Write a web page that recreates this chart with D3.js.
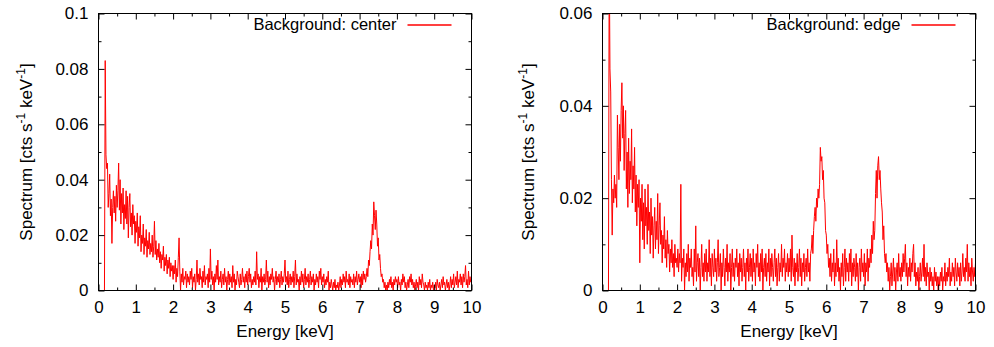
<!DOCTYPE html>
<html>
<head>
<meta charset="utf-8">
<script src="https://cdn.jsdelivr.net/npm/d3@7"></script>
<style>
  body { margin: 0; background: #fff; }
  text { font-family: 'Liberation Sans', Arial, sans-serif; fill: #000; }
</style>
</head>
<body>
<div class="chart-holder"></div>
<script>
// spectra in 1e-3 cts s^-1 keV^-1, bins every 0.02 keV from 0.16 keV to 10 keV
// (first row 0.16-0.98, then one row per keV, last value at 10 keV)
let centerSpec = [
  0,83,49,44,46,30,35,42,27,33, 17,30,36,28,34,25,38,30,36,46,
  29,40,24,35,28,37,22,31,26,36, 24,34,19,30,35,23,28,20,31,24, 27,17,
  25,21,28,16,23,19,27,14,20,17, 24,13,19,16,22,12,18,15,21,13,
  17,14,20,12,16,25,13,18,11,15, 12,17,10,14,8,13,11,16,7,12, 9,13,6,11,8,12,5,10,7,9,
  4,9,6,11,3,8,5,12,19,7, 0,6,3,8,2,5,4,7,1,6,
  3,5,2,7,4,8,1,5,3,6, 0,4,11,3,6,2,8,4,5,1, 7,3,9,2,5,4,6,1,8,3,
  15,4,7,2,5,0,6,3,9,4, 11,2,5,3,7,1,4,6,2,8,
  3,5,0,4,7,2,6,3,5,1, 9,3,6,0,4,2,7,5,3,1, 6,2,4,8,3,5,1,6,3,7,
  2,5,8,3,6,1,4,2,5,3, 7,2,14,4,6,1,5,3,8,0,
  5,3,6,2,4,11,3,7,1,5, 2,6,4,8,3,5,0,4,7,2, 5,3,6,1,4,7,2,5,3,6,
  11,3,5,2,7,1,4,6,2,5, 3,7,1,5,11,2,6,3,4,0,
  5,2,7,3,6,1,4,8,2,5, 3,6,1,4,7,2,5,3,6,0, 4,2,6,3,5,1,7,4,8,2,
  5,3,6,1,4,2,5,3,7,0, 3,1,4,2,0,3,1,4,0,2,
  1,3,0,2,5,1,4,2,6,3, 5,1,7,3,4,2,6,1,5,3, 4,2,6,1,5,3,7,2,4,6,
  3,5,1,6,2,7,4,6,3,5, 8,5,11,9,14,18,15,24,20,32,
  27,22,29,24,16,19,11,13,8,5, 6,3,4,1,3,0,2,0,3,1, 4,2,5,1,3,0,4,2,5,3,
  4,1,5,2,3,0,4,2,6,3, 5,1,3,0,2,4,1,5,3,6,
  2,4,1,3,0,2,4,1,3,0, 5,2,4,1,6,3,2,0,3,1, 2,0,3,1,4,0,2,1,3,0,
  2,1,3,0,4,2,1,3,0,2, 4,1,5,2,3,0,2,4,1,3,
  0,2,5,1,4,2,6,1,3,5, 2,7,1,4,3,6,2,5,1,6, 3,5,9,2,4,1,7,2,5,3,
  4
]
let edgeSpec = [
  0,75,48,43,24,12,22,19,25,20, 23,18,38,31,24,36,28,39,45,33,
  40,26,34,39,22,30,18,33,21,28, 24,35,19,27,22,31,17,25,14,23, 18,24,
  6,20,15,23,11,19,9,22,14,18, 10,23,13,17,8,20,12,16,7,14,
  18,9,15,11,21,8,14,19,10,13, 6,12,9,16,7,11,5,13,8,10, 4,9,6,11,5,8,3,10,6,7,
  5,9,4,8,6,23,2,7,5,9, 0,6,3,8,4,10,2,7,5,9,
  3,5,1,9,4,14,2,6,8,3, 7,0,5,10,3,6,2,8,4,9, 2,6,4,11,3,7,1,8,5,3,
  9,4,7,2,6,11,3,5,8,0, 6,3,9,5,1,7,4,10,2,6,
  4,8,0,5,9,3,6,2,7,5, 9,3,6,1,8,4,7,2,5,9, 3,6,0,7,4,9,2,5,8,3,
  7,2,9,4,6,1,8,5,10,3, 6,2,8,4,9,0,5,7,3,8,
  2,6,4,9,1,7,3,8,5,2, 6,9,3,7,1,5,8,2,6,4, 10,3,7,5,9,2,6,4,8,3,
  7,4,9,2,12,5,3,7,1,6, 4,8,2,5,9,3,7,1,6,4,
  8,2,5,7,3,9,4,6,2,8, 9,12,8,13,16,18,15,20,18,22, 20,23,31,28,29,24,26,20,19,13,
  12,8,10,5,7,3,8,2,6,4, 9,1,6,3,11,4,7,2,5,0,
  6,3,8,1,5,9,2,7,4,6, 2,8,4,9,1,6,3,7,5,2, 8,3,6,0,5,7,2,9,4,6,
  3,8,1,6,4,9,2,7,5,9, 6,12,8,15,11,13,21,26,20,27,
  29,24,26,22,19,17,11,14,8,6, 8,4,6,2,5,0,3,6,1,4, 7,2,5,0,4,6,2,8,3,5,
  2,6,3,8,4,7,10,3,6,1, 5,3,7,2,6,4,8,10,3,6,
  1,4,2,5,0,3,6,2,4,7, 3,10,2,5,1,6,3,4,0,5, 2,4,1,3,0,5,2,4,1,3,
  0,3,1,4,2,5,0,3,2,6, 1,4,2,5,3,7,1,4,2,6,
  3,5,1,7,4,2,6,3,5,1, 6,2,4,8,3,5,2,7,4,10, 2,6,3,5,1,7,4,2,5,3,
  6
]
let energyStart = 0.16
let energyEnd = 10

let energyTicks = [0,1,2,3,4,5,6,7,8,9,10]
let centerTicks = [0, 0.02, 0.04, 0.06, 0.08, 0.1]
let centerTickLabels = ['0', '0.02', '0.04', '0.06', '0.08', '0.1']
let edgeTicks = [0, 0.02, 0.04, 0.06]
let edgeTickLabels = ['0', '0.02', '0.04', '0.06']
let legendLabels = ['Background: center', 'Background: edge']

let width = 994
let height = 347
let plotTop = 13.5, plotBottom = 290.5
let red = '#ff0000'

let svg = d3.select('.chart-holder')
  .append('svg')
    .attr('width', width)
    .attr('height', height)

let panels = [
  { id: 'c', values: centerSpec, yMax: 0.1, ticks: centerTicks, labels: centerTickLabels,
    legend: legendLabels[0], left: 98.5, right: 471.5, ylabelX: 32 },
  { id: 'e', values: edgeSpec, yMax: 0.06, ticks: edgeTicks, labels: edgeTickLabels,
    legend: legendLabels[1], left: 602.5, right: 975.5, ylabelX: 534 }
]

panels.forEach(drawPanel)

function drawPanel(p){
  let x = d3.scaleLinear().domain([0, 10]).range([p.left, p.right])
  let y = d3.scaleLinear().domain([0, p.yMax]).range([plotBottom, plotTop])
  let g = svg.append('g').attr('class', 'panel-' + p.id)

  let minorX = d3.range(0.5, 10, 1)
  let minorY = p.ticks.slice(0, -1).map(t => t + 0.01)

  // clip for the spectrum
  svg.append('clipPath').attr('id', 'clip-' + p.id)
    .append('rect')
      .attr('x', p.left).attr('y', plotTop)
      .attr('width', p.right - p.left).attr('height', plotBottom - plotTop)

  let step = (energyEnd - energyStart) / (p.values.length - 1)
  let line = d3.line()
    .x((d, i) => x(energyStart + i * step))
    .y(d => y(d / 1000))

  g.append('path')
    .datum(p.values)
    .attr('clip-path', 'url(#clip-' + p.id + ')')
    .attr('fill', 'none')
    .attr('stroke', red)
    .attr('stroke-width', 1)
    .attr('d', line)

  // axes, ticks pointing inward
  let fmt = d => p.labels[p.ticks.indexOf(d)]
  let axes = [
    [d3.axisBottom(x).tickValues(energyTicks).tickFormat(d3.format('d')), 'translate(0,' + plotBottom + ')', 10],
    [d3.axisTop(x).tickValues(energyTicks).tickFormat(''), 'translate(0,' + plotTop + ')', 0],
    [d3.axisLeft(y).tickValues(p.ticks).tickFormat(fmt), 'translate(' + p.left + ',0)', 10],
    [d3.axisRight(y).tickValues(p.ticks).tickFormat(''), 'translate(' + p.right + ',0)', 0]
  ]
  axes.forEach(([ax, tr, pad]) => {
    let a = g.append('g')
      .attr('transform', tr)
      .call(ax.tickSize(-6).tickSizeOuter(0).tickPadding(pad))
      .attr('font-size', 17)
      .attr('font-family', null)
    a.select('.domain').remove()
    a.selectAll('line').attr('stroke', '#000')
  })
  let minors = [
    [d3.axisBottom(x).tickValues(minorX), 'translate(0,' + plotBottom + ')'],
    [d3.axisTop(x).tickValues(minorX), 'translate(0,' + plotTop + ')'],
    [d3.axisLeft(y).tickValues(minorY), 'translate(' + p.left + ',0)'],
    [d3.axisRight(y).tickValues(minorY), 'translate(' + p.right + ',0)']
  ]
  minors.forEach(([ax, tr]) => {
    let a = g.append('g')
      .attr('transform', tr)
      .call(ax.tickSize(-3).tickSizeOuter(0).tickFormat(''))
    a.select('.domain').remove()
    a.selectAll('line').attr('stroke', '#000')
  })

  g.append('rect')
    .attr('x', p.left).attr('y', plotTop)
    .attr('width', p.right - p.left).attr('height', plotBottom - plotTop)
    .attr('fill', 'none')
    .attr('stroke', '#000')

  // legend
  g.append('text')
    .attr('x', p.right - 75).attr('y', 30)
    .attr('text-anchor', 'end')
    .attr('font-size', 16.5)
    .text(p.legend)
  g.append('line')
    .attr('x1', p.right - 64).attr('x2', p.right - 20)
    .attr('y1', 25).attr('y2', 25)
    .attr('stroke', red)
    .attr('stroke-width', 1.3)

  // axis labels
  g.append('text')
    .attr('x', (p.left + p.right) / 2).attr('y', 337)
    .attr('text-anchor', 'middle')
    .attr('font-size', 17)
    .text('Energy [keV]')

  let yl = g.append('text')
    .attr('transform', 'translate(' + p.ylabelX + ',' + ((plotTop + plotBottom) / 2) + ') rotate(-90)')
    .attr('text-anchor', 'middle')
    .attr('font-size', 17)
  yl.append('tspan').text('Spectrum [cts s')
  yl.append('tspan').attr('dy', -7).attr('font-size', 12).text('-1')
  yl.append('tspan').attr('dy', 7).text(' keV')
  yl.append('tspan').attr('dy', -7).attr('font-size', 12).text('-1')
  yl.append('tspan').attr('dy', 7).text(']')
}
</script>
</body>
</html>
